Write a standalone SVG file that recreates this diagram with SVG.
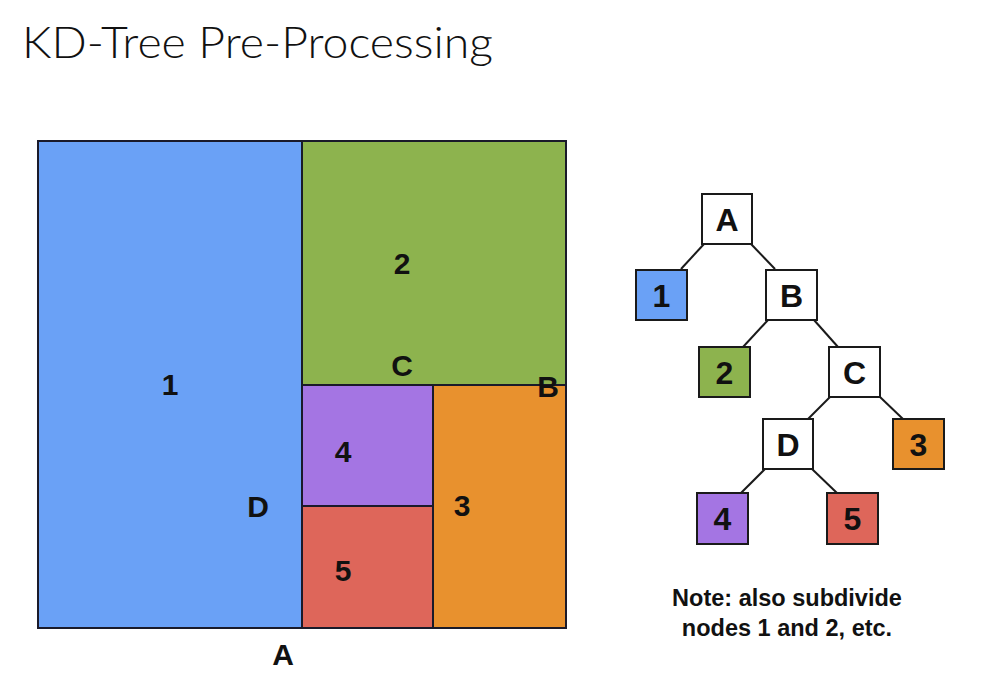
<svg xmlns="http://www.w3.org/2000/svg" width="982" height="681" viewBox="0 0 982 681">
<style>
.cell{stroke:#1a1a2a;stroke-width:2}
.lbl{font-family:"Liberation Sans",Arial,sans-serif;font-weight:bold;font-size:30px;fill:#111;text-anchor:middle}
.node{stroke:#1a1a1a;stroke-width:2}
.nl{font-family:"Liberation Sans",Arial,sans-serif;font-size:32px;fill:#111;text-anchor:middle;font-weight:600}
.edge{stroke:#1a1a1a;stroke-width:2;fill:none}
.note{font-family:"Liberation Sans",Arial,sans-serif;font-weight:bold;font-size:23.5px;fill:#111;text-anchor:middle}
</style>
<rect width="982" height="681" fill="#ffffff"/>
<text x="22" y="58" font-family="Lato,'Liberation Sans',sans-serif" font-size="43" font-weight="300" fill="#111" textLength="471" lengthAdjust="spacingAndGlyphs">KD-Tree Pre-Processing</text>
<g id="map">
<rect class="cell" x="38" y="141" width="264" height="487" fill="#6aa1f6"/>
<rect class="cell" x="302" y="141" width="264" height="244" fill="#8db34e"/>
<rect class="cell" x="302" y="385" width="131" height="121" fill="#a475e3"/>
<rect class="cell" x="302" y="506" width="131" height="122" fill="#de665a"/>
<rect class="cell" x="433" y="385" width="133" height="243" fill="#e8912e"/>
<text class="lbl" x="170" y="395">1</text>
<text class="lbl" x="402" y="274">2</text>
<text class="lbl" x="402" y="376">C</text>
<text class="lbl" x="548" y="397">B</text>
<text class="lbl" x="343" y="462">4</text>
<text class="lbl" x="258" y="517">D</text>
<text class="lbl" x="462" y="516">3</text>
<text class="lbl" x="343" y="581">5</text>
<text class="lbl" x="283" y="665">A</text>
</g>
<g id="connectors">
<line class="edge" x1="704" y1="244" x2="681" y2="269"/>
<line class="edge" x1="751" y1="244" x2="775" y2="269"/>
<line class="edge" x1="768" y1="320" x2="743" y2="347"/>
<line class="edge" x1="814" y1="320" x2="838" y2="347"/>
<line class="edge" x1="830" y1="397" x2="808" y2="419"/>
<line class="edge" x1="880" y1="397" x2="903" y2="419"/>
<line class="edge" x1="765" y1="469" x2="741" y2="493"/>
<line class="edge" x1="812" y1="469" x2="837" y2="493"/>
</g>
<g id="node-A"><rect class="node" x="702" y="194" width="50" height="50" fill="#fff"/><text class="nl" x="727" y="231">A</text></g>
<g id="node-1"><rect class="node" x="636" y="270" width="51" height="50" fill="#6aa1f6"/><text class="nl" x="661.5" y="307">1</text></g>
<g id="node-B"><rect class="node" x="766" y="270" width="51" height="50" fill="#fff"/><text class="nl" x="791.5" y="307">B</text></g>
<g id="node-2"><rect class="node" x="699" y="347" width="51" height="50" fill="#8db34e"/><text class="nl" x="724.5" y="384">2</text></g>
<g id="node-C"><rect class="node" x="829" y="347" width="51" height="50" fill="#fff"/><text class="nl" x="854.5" y="384">C</text></g>
<g id="node-D"><rect class="node" x="763" y="419" width="50" height="50" fill="#fff"/><text class="nl" x="788" y="456">D</text></g>
<g id="node-3"><rect class="node" x="893" y="419" width="51" height="50" fill="#e8912e"/><text class="nl" x="918.5" y="456">3</text></g>
<g id="node-4"><rect class="node" x="697" y="493" width="51" height="51" fill="#a475e3"/><text class="nl" x="722.5" y="530">4</text></g>
<g id="node-5"><rect class="node" x="827" y="493" width="51" height="51" fill="#de665a"/><text class="nl" x="852.5" y="530">5</text></g>
<g id="note">
<text class="note" x="787" y="606">Note: also subdivide</text>
<text class="note" x="787" y="636">nodes 1 and 2, etc.</text>
</g>
</svg>
